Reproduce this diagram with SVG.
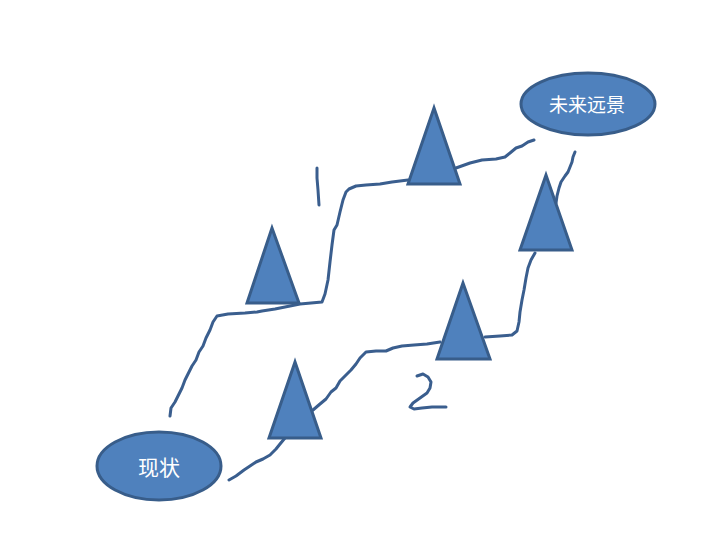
<svg xmlns="http://www.w3.org/2000/svg" width="725" height="550" viewBox="0 0 725 550">
<style>
.shape{fill:#4F81BD;stroke:#385D8A;stroke-width:3;stroke-linejoin:miter}
.ink{fill:none;stroke:#3A5E8E;stroke-width:3;stroke-linecap:round;stroke-linejoin:round}
.lbl{fill:#FFFFFF;font-family:"Noto Sans CJK SC","Noto Sans",sans-serif;text-anchor:middle;dominant-baseline:central}
</style>
<rect width="725" height="550" fill="#FFFFFF"/>
<g id="connectors">
<path class="ink" d="M170,416 L171,408 L175,402 L178,396 L182,388 L185,380 L189,372 L192,366 L196,360 L199,352 L203,346 L206,338 L210,330 L213,322 L217,316 L228,314 L245,313 L257,312 L262,311 L275,309 L290,306 L300,304 L322,302 L325,294 L328,280 L330,262 L332,245 L334,230 L337,225 L340,212 L343,200 L346,192 L349,189 L356,186 L366,185 L380,184 L392,182 L408,180"/>
<path class="ink" d="M456,168 L470,163 L482,160 L496,159 L505,157 L510,153 L516,148 L522,146 L528,142 L534,140"/>
<path class="ink" d="M229,480 L236,476 L244,470 L250,466 L256,462 L263,459 L270,455 L276,449 L280,444 L290,432 L313,410 L320,404 L326,399 L331,392 L336,388 L340,381 L346,375 L351,370 L356,364 L360,358 L366,352 L376,351 L386,351 L393,348 L402,346 L414,345 L427,344 L440,342"/>
<path class="ink" d="M485,337 L500,336 L512,335 L517,331 L519,322 L520,312 L522,300 L524,290 L526,278 L528,268 L531,260 L535,253"/>
<path class="ink" d="M556,203 L557,196 L559,188 L561,182 L565,176 L568,172 L570,167 L572,162 L573,157 L575,152"/>
<path class="ink" d="M317,168 L317,178 L318,190 L319,205"/>
<path class="ink" d="M417,376 L423,374 L428,377 L431,382 L430,388 L427,393 L420,398 L413,403 L410,407 L414,409 L422,408 L432,407 L446,407"/>
</g>
<g id="t1"><polygon class="shape" points="272,228 247,303 299,303"/></g>
<g id="t2"><polygon class="shape" points="434,108 408,184 460,184"/></g>
<g id="t3"><polygon class="shape" points="295,362 269,438 321,438"/></g>
<g id="t4"><polygon class="shape" points="463,283 437,359 490,359"/></g>
<g id="t5"><polygon class="shape" points="546,175 520,250 572,250"/></g>
<g id="current"><ellipse class="shape" cx="159" cy="466" rx="62" ry="34"/><text class="lbl" x="159" y="466" font-size="21">现状</text></g>
<g id="future"><ellipse class="shape" cx="588" cy="104" rx="67" ry="31"/><text class="lbl" x="587" y="103" font-size="19">未来远景</text></g>
</svg>
